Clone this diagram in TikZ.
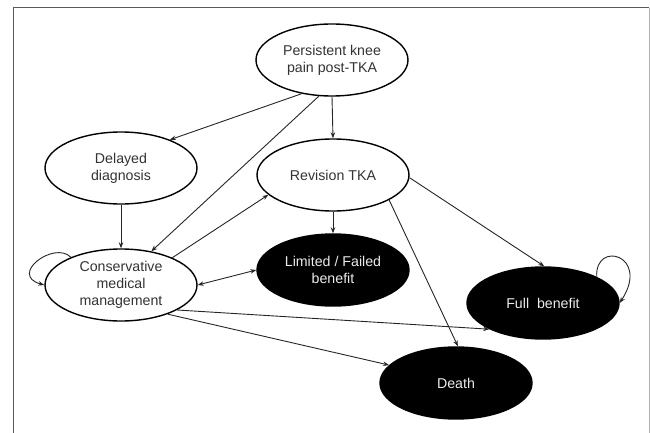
\documentclass[tikz,border=0pt]{standalone}
\usepackage{fontspec}
\setmainfont{Liberation Sans}
\usetikzlibrary{shapes.geometric,arrows.meta}
\begin{document}
\begin{tikzpicture}[x=1pt,y=-1pt,>={Stealth[length=6pt,width=4.5pt]},line join=round,
    font=\fontsize{14.2}{17}\selectfont,
    st/.style={ellipse,line width=1.4pt,minimum width=152pt,minimum height=72pt,inner sep=0pt,align=center},
    wst/.style={st,draw=black,fill=white,text=black!80},
    bst/.style={st,draw=black,fill=black,text=white!92!black},
    ed/.style={->,line width=0.9pt,draw=black!85}]
    \useasboundingbox (0,0) rectangle (650,433);
    \draw[black!65,line width=1pt] (13,433)--(13,8)--(649,8);
    \draw[black!30,line width=1pt] (649,8)--(649,433);
    % states
    \node[wst] (pain) at (332,60) {Persistent knee\\pain post-TKA};
    \node[wst] (delay) at (121,168) {Delayed\\diagnosis};
    \node[wst] (rev) at (333,175) {Revision TKA};
    \node[wst] (cons) at (121,285) {Conservative\\medical\\management};
    \node[bst] (lim) at (333,270) {Limited / Failed\\benefit};
    \node[bst] (full) at (543,303) {Full\ \ benefit};
    \node[bst] (death) at (456,383) {Death};
    % transitions
    \draw[ed] (pain.228) -- (delay.30);
    \draw[ed] (pain.250) -- (cons.48);
    \draw[ed] (pain.south) -- (rev.north);
    \draw[ed] (delay.south) -- (cons.north);
    \draw[ed] (cons.28) -- (rev.197);
    \draw[ed,<->] (cons.east) -- (lim.west);
    \draw[ed] (rev.south) -- (lim.north);
    \draw[ed] (rev.358) -- (full.88);
    \draw[ed] (rev.336) -- (death.87);
    \draw[ed] (cons.336) -- (full.206);
    \draw[ed] (cons.328) -- (death.165);
    % loops
    \draw[ed] (cons.151) .. controls +(-17,-17) and +(-36,-10) .. (cons.west);
    \draw[ed] (full.26) .. controls +(-2,-37) and +(31,-48) .. (full.east);
\end{tikzpicture}
\end{document}
